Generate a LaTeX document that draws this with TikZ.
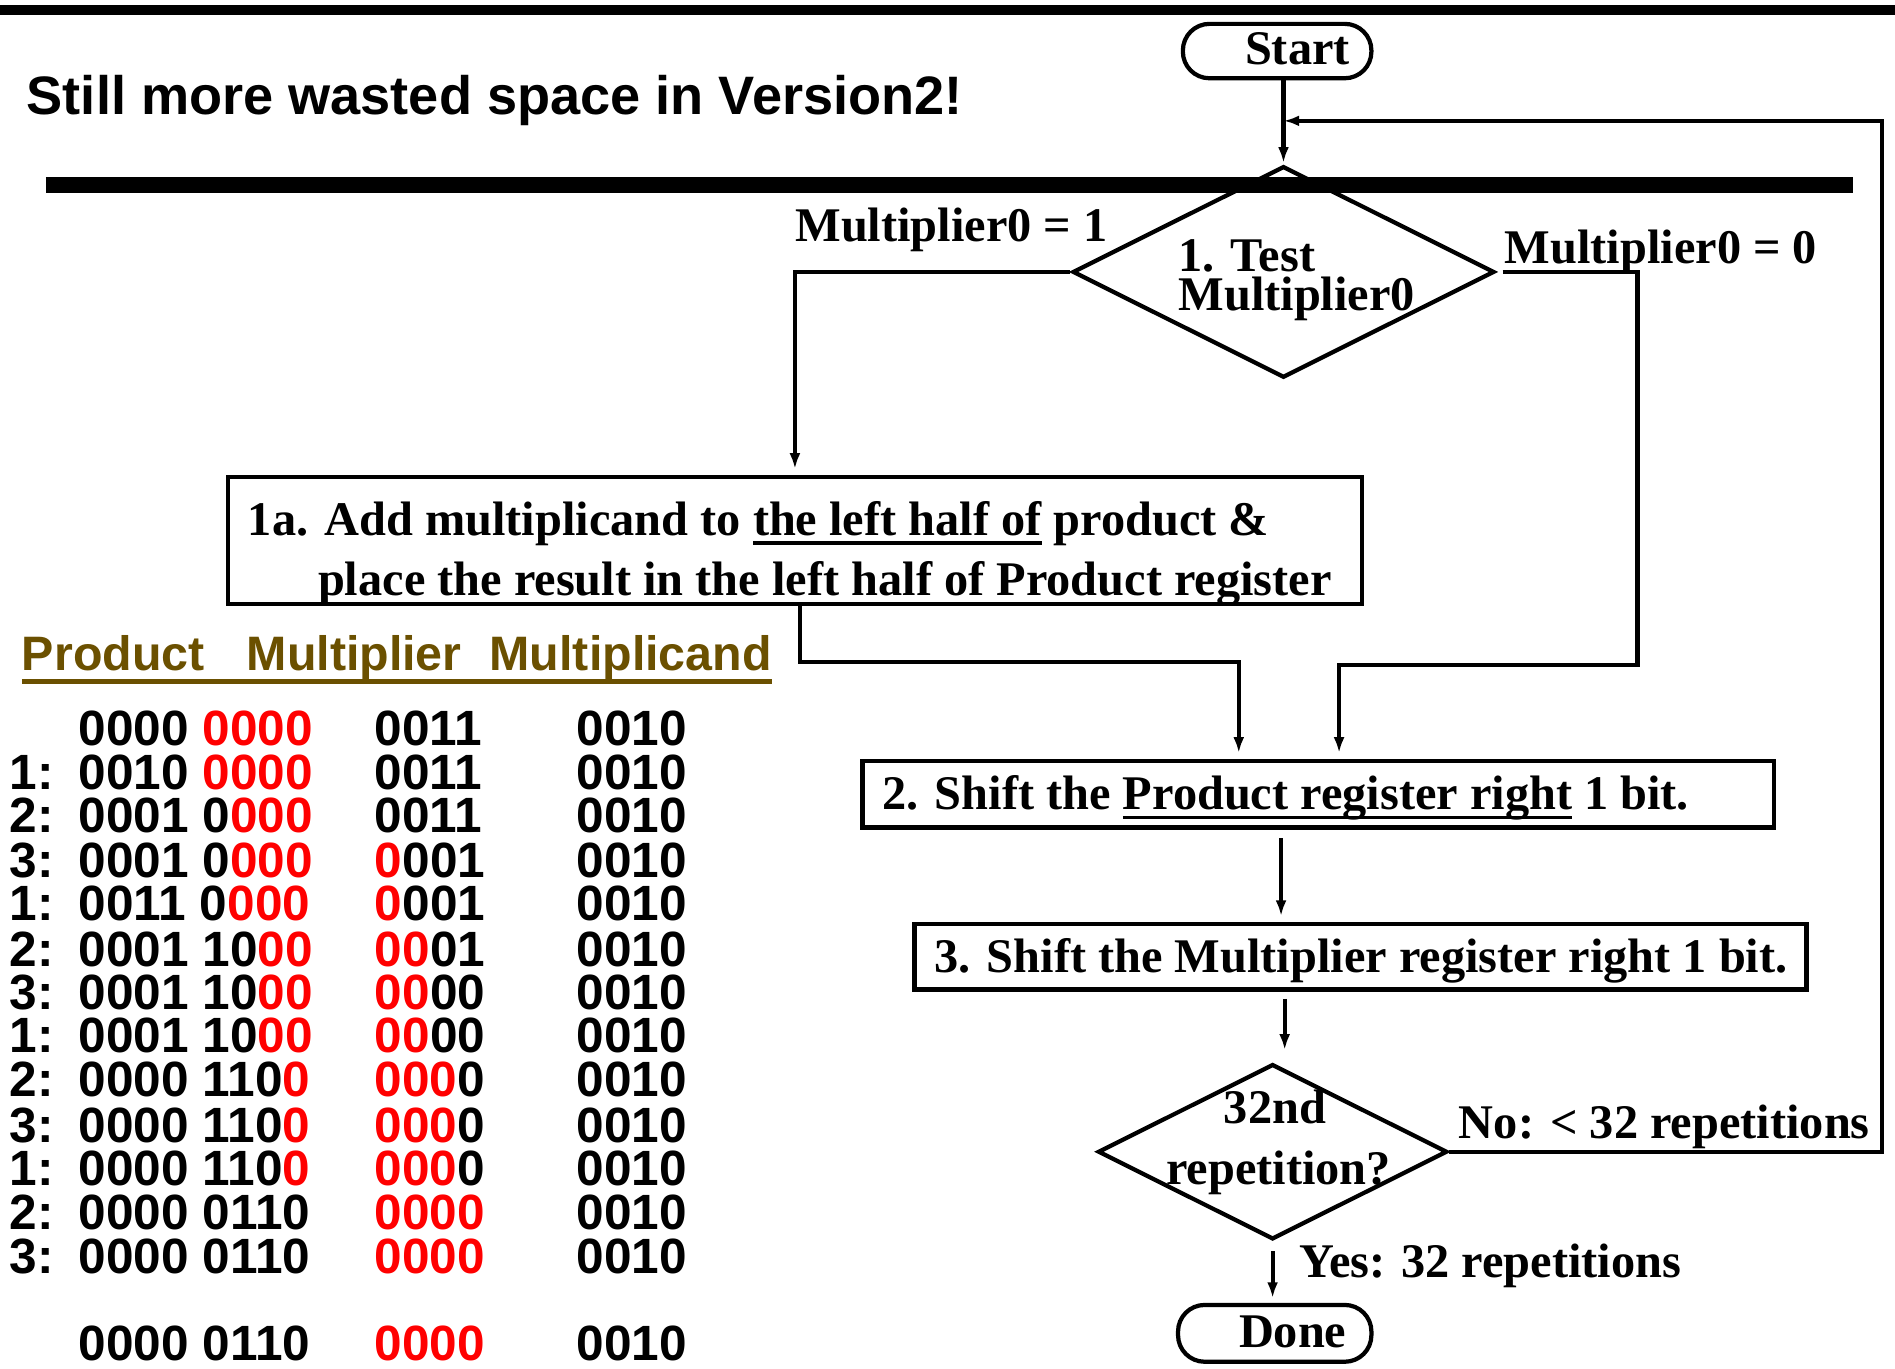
\documentclass[tikz,border=0pt]{standalone}
\usepackage{fontspec}
\setmainfont{Liberation Serif}
\newfontfamily\arialf{Liberation Sans}
\usetikzlibrary{arrows.meta,shapes.geometric,calc}
\definecolor{headbrown}{RGB}{107,80,0}
\definecolor{bitred}{RGB}{255,0,0}
\newcommand\serifbig{\bfseries\fontsize{40}{46}\selectfont}
\newcommand\titlefont{\arialf\bfseries\fontsize{44.8}{50}\selectfont}
\newcommand\headfont{\arialf\bfseries\fontsize{40}{46}\selectfont}
\newcommand\bitfont{\arialf\bfseries\fontsize{41}{46}\selectfont}
\newcommand\ulin[1]{\setbox0\hbox{#1}\rlap{\rule[-8pt]{\wd0}{3pt}}\box0\relax}
\newcommand\rb[1]{\textcolor{bitred}{#1}}
\begin{document}
\begin{tikzpicture}[x=1pt,y=-1pt,
  txt/.style={anchor=base west, inner sep=0pt, font=\serifbig},
  ctxt/.style={anchor=base, inner sep=0pt, font=\serifbig},
  bits/.style={anchor=base west, inner sep=0pt, font=\bitfont},
  flow/.style={line width=3.5pt},
  arr/.style={flow, -{Latex[length=13pt,width=9pt]}, shorten >=5pt},
  stepbox/.style={draw, line width=3.5pt, anchor=north west, inner sep=0pt},
  term/.style={draw, line width=3.5pt, rounded corners=22pt, anchor=north west, inner sep=0pt},
  decide/.style={draw, diamond, line width=3.5pt, inner sep=0pt}]
\fill[white] (0,0) rectangle (1568,1132);
\useasboundingbox (0,0) rectangle (1568,1132);

% rules and title
\draw[line width=8pt] (0,8) -- (1568,8);
\node[anchor=base west, inner sep=0pt, font=\titlefont] (title) at (22,95) {Still more wasted space in Version2!};

% flowchart shapes
\node[term, minimum width=156pt, minimum height=45pt] (start) at (977,18) {};
\node[txt] (starttxt) at (1030,53) {Start};
\node[decide, minimum width=349pt, minimum height=175pt] (d1) at (1062,225) {};
\draw[line width=13pt] (38,153) -- (1533,153);
\node[txt] (d1a) at (975,225) {1. Test};
\node[txt] (d1b) at (975,257) {Multiplier0};
\node[txt] (lab1) at (658,200) {Multiplier0 = 1};
\node[txt] (lab0) at (1245,218) {Multiplier0 = 0};

\node[stepbox, minimum width=938pt, minimum height=105pt] (box1a) at (187,393) {};
\node[txt] (s1a) at (205,443) {1a. Add multiplicand to \ulin{the left half of} product \&};
\node[txt] (s1b) at (263,493) {place the result in the left half of Product register};

\node[stepbox, minimum width=754pt, minimum height=55pt] (box2) at (712,628) {};
\node[txt] (s2) at (730,670) {2. Shift the \ulin{Product register right} 1 bit.};

\node[stepbox, minimum width=738pt, minimum height=54pt] (box3) at (755,763) {};
\node[txt] (s3) at (773,805) {3. Shift the Multiplier register right 1 bit.};

\node[decide, minimum width=289pt, minimum height=145pt] (d2) at (1053,953) {};
\node[ctxt] (d2a) at (1055,930) {32nd};
\node[ctxt] (d2b) at (1058,980) {repetition?};
\node[txt] (labno) at (1207,942) {No: < 32 repetitions};
\node[txt] (labyes) at (1075,1057) {Yes: 32 repetitions};

\node[term, minimum width=160pt, minimum height=47pt] (done) at (973,1078) {};
\node[txt] (donetxt) at (1025,1115) {Done};

% connectors
\coordinate (loopc) at (1557,100);
\coordinate (rj) at (1355,550);
\coordinate (rin) at (1108,550);
\coordinate (lj) at (662,548);
\coordinate (lin) at (1025,548);
\coordinate (colA) at (1060,0);
\coordinate (colB) at (1063,0);

\draw[arr, shorten >=1pt] (d1.north |- start.south) -- (d1.north);
\draw[arr, shorten >=0pt] (d2.east) -| (loopc) -- (loopc -| d1.north);
\draw[arr] (d1.west) -| (box1a.north);
\draw[arr] ([xshift=5pt]d1.east) -| (rj) -- (rin) -- (box2.north -| rin);
\draw[arr] (box1a.south -| lj) -- (lj) -- (lin) -- (box2.north -| lin);
\draw[arr, shorten <=7pt] (box2.south -| colA) -- (box3.north -| colA);
\draw[arr, shorten <=6pt, shorten >=10pt] (box3.south -| colB) -- (d2.north -| colB);
\draw[arr, shorten <=8pt, shorten >=4pt] (d2.south) -- (d2.south |- done.north);

% register trace table
\node[anchor=base west, inner sep=0pt, font=\headfont, text=headbrown] (hprod) at (18,555) {Product};
\node[anchor=base west, inner sep=0pt, font=\headfont, text=headbrown] (hmul) at (204,555) {Multiplier};
\node[anchor=base west, inner sep=0pt, font=\headfont, text=headbrown] (hmcd) at (405,555) {Multiplicand};
\draw[headbrown, line width=4pt] (hprod.base west |- 0,564) -- (hmcd.base east |- 0,564);

\node[bits] (p0) at (65,617) {0000 \rb{0000}};
\node[bits] (m0) at (310,617) {0011};
\node[bits] (c0) at (477,617) {0010};

\node[bits] (n1) at (8,653) {1:};
\node[bits] (p1) at (65,653) {0010 \rb{0000}};
\node[bits] (m1) at (310,653) {0011};
\node[bits] (c1) at (477,653) {0010};

\node[bits] (n2) at (8,689) {2:};
\node[bits] (p2) at (65,689) {0001 0\rb{000}};
\node[bits] (m2) at (310,689) {0011};
\node[bits] (c2) at (477,689) {0010};

\node[bits] (n3) at (8,726) {3:};
\node[bits] (p3) at (65,726) {0001 0\rb{000}};
\node[bits] (m3) at (310,726) {\rb{0}001};
\node[bits] (c3) at (477,726) {0010};

\node[bits] (n4) at (8,762) {1:};
\node[bits] (p4) at (65,762) {0011 0\rb{000}};
\node[bits] (m4) at (310,762) {\rb{0}001};
\node[bits] (c4) at (477,762) {0010};

\node[bits] (n5) at (8,800) {2:};
\node[bits] (p5) at (65,800) {0001 10\rb{00}};
\node[bits] (m5) at (310,800) {\rb{00}01};
\node[bits] (c5) at (477,800) {0010};

\node[bits] (n6) at (8,835) {3:};
\node[bits] (p6) at (65,835) {0001 10\rb{00}};
\node[bits] (m6) at (310,835) {\rb{00}00};
\node[bits] (c6) at (477,835) {0010};

\node[bits] (n7) at (8,871) {1:};
\node[bits] (p7) at (65,871) {0001 10\rb{00}};
\node[bits] (m7) at (310,871) {\rb{00}00};
\node[bits] (c7) at (477,871) {0010};

\node[bits] (n8) at (8,907) {2:};
\node[bits] (p8) at (65,907) {0000 110\rb{0}};
\node[bits] (m8) at (310,907) {\rb{000}0};
\node[bits] (c8) at (477,907) {0010};

\node[bits] (n9) at (8,945) {3:};
\node[bits] (p9) at (65,945) {0000 110\rb{0}};
\node[bits] (m9) at (310,945) {\rb{000}0};
\node[bits] (c9) at (477,945) {0010};

\node[bits] (n10) at (8,981) {1:};
\node[bits] (p10) at (65,981) {0000 110\rb{0}};
\node[bits] (m10) at (310,981) {\rb{000}0};
\node[bits] (c10) at (477,981) {0010};

\node[bits] (n11) at (8,1017) {2:};
\node[bits] (p11) at (65,1017) {0000 0110};
\node[bits] (m11) at (310,1017) {\rb{0000}};
\node[bits] (c11) at (477,1017) {0010};

\node[bits] (n12) at (8,1054) {3:};
\node[bits] (p12) at (65,1054) {0000 0110};
\node[bits] (m12) at (310,1054) {\rb{0000}};
\node[bits] (c12) at (477,1054) {0010};

\node[bits] (pf) at (65,1126) {0000 0110};
\node[bits] (mf) at (310,1126) {\rb{0000}};
\node[bits] (cf) at (477,1126) {0010};
\end{tikzpicture}
\end{document}
